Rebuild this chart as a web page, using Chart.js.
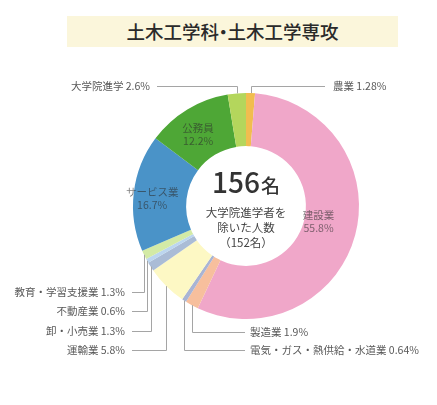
<!DOCTYPE html>
<html lang="ja">
<head>
<meta charset="utf-8">
<script src="https://cdn.jsdelivr.net/npm/chart.js@4/dist/chart.umd.min.js"></script>
<style>
  html, body { margin: 0; padding: 0; background: #fff; }
  #wrap { position: relative; width: 437px; height: 405px; }
  #title {
    position: absolute; left: 67px; top: 16px; width: 331px; height: 31px;
    background: #fbf6db; color: #2a2a2a; text-align: center;
    font: 500 18.5px "Noto Sans CJK JP"; line-height: 31px;
  }
  #title .dot { margin: 0 -5px; }
  canvas { position: absolute; left: 0; top: 0; }
</style>
</head>
<body>
<div id="wrap">
  <canvas id="chart" width="437" height="405"></canvas>
  <div id="title">土木工学科<span class="dot">・</span>土木工学専攻</div>
</div>
<script>
// 進路の内訳 (clockwise from top)
const categories = ['農業', '建設業', '製造業', '電気・ガス・熱供給・水道業', '運輸業',
  '卸・小売業', '不動産業', '教育・学習支援業', 'サービス業', '公務員', '大学院進学'];
const shares = [1.28, 55.8, 1.9, 0.64, 5.8, 1.3, 0.6, 1.3, 16.7, 12.2, 2.6];
const colors = ['#f1bd4f', '#f0a7c9', '#f7bf9d', '#a9b4d4', '#fdf8c4',
  '#aabcd6', '#bcd6ef', '#d3eaa6', '#4a93c8', '#4ea736', '#b4d65c'];

const totalCount = 156;
const centerLines = ['大学院進学者を', '除いた人数', '（152名）'];

// label layout
const outsideLabels = [
  { index: 10, y: 86, side: 'left', lineEnd: 157, textX: 150 },
  { index: 0, y: 86, side: 'right', lineEnd: 325, textX: 333 },
  { index: 7, y: 292, side: 'left', lineEnd: 132, textX: 125 },
  { index: 6, y: 311, side: 'left', lineEnd: 132, textX: 125 },
  { index: 5, y: 331, side: 'left', lineEnd: 132, textX: 125 },
  { index: 4, y: 350, side: 'left', lineEnd: 132, textX: 125 },
  { index: 2, y: 332, side: 'right', lineEnd: 245, textX: 250 },
  { index: 3, y: 350, side: 'right', lineEnd: 245, textX: 250 }
];
const insideLabels = [
  { index: 1, dx: -11, dy: -7 },
  { index: 8, dx: -8, dy: 3 },
  { index: 9, dx: -3, dy: 2 }
];

const FONT = '"Noto Sans CJK JP"';

const labelPlugin = {
  id: 'labels',
  afterDatasetsDraw(chart) {
    const ctx = chart.ctx;
    const arcs = chart.getDatasetMeta(0).data;
    ctx.save();
    ctx.textBaseline = 'middle';

    // leader lines + outside labels
    ctx.strokeStyle = '#a5a5a5';
    ctx.lineWidth = 1;
    ctx.font = '10.5px ' + FONT;
    ctx.fillStyle = '#585858';
    outsideLabels.forEach(l => {
      const a = arcs[l.index].getProps(['x', 'y', 'startAngle', 'endAngle', 'outerRadius'], true);
      const mid = (a.startAngle + a.endAngle) / 2;
      const ax = Math.round(a.x + Math.cos(mid) * a.outerRadius) + 0.5;
      const ay = a.y + Math.sin(mid) * a.outerRadius;
      const ly = Math.round(l.y) + 0.5;
      ctx.beginPath();
      ctx.moveTo(ax, ay);
      ctx.lineTo(ax, ly);
      ctx.lineTo(l.lineEnd, ly);
      ctx.stroke();
      ctx.textAlign = l.side === 'left' ? 'right' : 'left';
      ctx.fillText(categories[l.index] + ' ' + shares[l.index] + '%', l.textX, l.y);
    });

    // labels inside the ring
    ctx.textAlign = 'center';
    ctx.fillStyle = 'rgba(45,45,45,0.6)';
    insideLabels.forEach(l => {
      const p = arcs[l.index].tooltipPosition(true);
      const x = p.x + l.dx, y = p.y + l.dy;
      ctx.fillText(categories[l.index], x, y - 6.5);
      ctx.fillText(shares[l.index] + '%', x, y + 6.5);
    });

    // center text
    const c = arcs[0].getProps(['x', 'y'], true);
    ctx.fillStyle = '#333';
    ctx.textBaseline = 'alphabetic';
    ctx.font = '500 28px ' + FONT;
    const numW = ctx.measureText(String(totalCount)).width;
    ctx.font = '500 19px ' + FONT;
    const unitW = ctx.measureText('名').width;
    const startX = c.x - (numW + unitW + 1) / 2;
    ctx.textAlign = 'left';
    ctx.font = '500 28px ' + FONT;
    ctx.fillText(String(totalCount), startX, c.y - 13);
    ctx.font = '500 19px ' + FONT;
    ctx.fillText('名', startX + numW + 1, c.y - 13);

    ctx.textAlign = 'center';
    ctx.textBaseline = 'middle';
    ctx.font = '11.5px ' + FONT;
    ctx.fillStyle = '#444';
    centerLines.forEach((t, i) => ctx.fillText(t, c.x, c.y + 7 + i * 15));
    ctx.restore();
  }
};

new Chart(document.getElementById('chart'), {
  type: 'doughnut',
  data: {
    labels: categories,
    datasets: [{
      data: shares,
      backgroundColor: colors,
      borderWidth: 0,
      hoverOffset: 0,
      offset: 0
    }]
  },
  options: {
    responsive: false,
    animation: false,
    cutout: '53%',
    layout: { padding: { left: 133, right: 78, top: 93, bottom: 86 } },
    plugins: {
      legend: { display: false },
      tooltip: { enabled: false }
    }
  },
  plugins: [labelPlugin]
});
</script>
</body>
</html>
